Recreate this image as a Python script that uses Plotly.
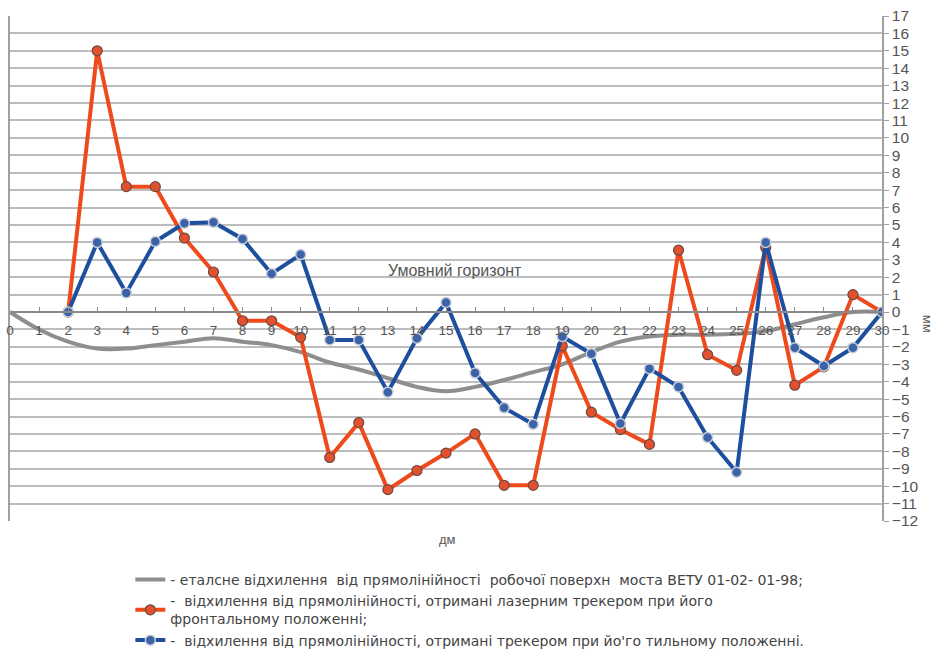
import plotly.graph_objects as go

x_ref = list(range(0, 31))
gray_vals = [0, -1.0, -1.7, -2.1, -2.1, -1.9, -1.7, -1.5, -1.7, -1.9, -2.3,
             -2.9, -3.3, -3.8, -4.3, -4.55, -4.3, -3.9, -3.45, -3.0, -2.3,
             -1.7, -1.4, -1.3, -1.3, -1.25, -1.1, -0.7, -0.3, 0.0, 0.0]

x_meas = list(range(2, 31))
red_vals = [0, 15, 7.2, 7.2, 4.25, 2.3, -0.5, -0.5, -1.45, -8.35, -6.35, -10.2,
            -9.1, -8.1, -7.0, -9.95, -9.95, -1.95, -5.75, -6.75, -7.6, 3.55,
            -2.45, -3.35, 3.7, -4.2, -3.15, 1.0, 0]
blue_vals = [0, 4.0, 1.1, 4.05, 5.1, 5.15, 4.2, 2.2, 3.3, -1.6, -1.6, -4.6,
             -1.5, 0.55, -3.5, -5.5, -6.45, -1.4, -2.4, -6.4, -3.25, -4.3,
             -7.2, -9.2, 4.0, -2.05, -3.1, -2.05, 0]

x_ticks = list(range(0, 31))
y_ticks = list(range(-12, 18))

names = [
    "- еталсне відхилення  від прямолінійності  робочої поверхн  моста ВЕТУ 01-02- 01-98;",
    "-  відхилення від прямолінійності, отримані лазерним трекером при його<br>фронтальному положенні;",
    "-  відхилення від прямолінійності, отримані трекером при йо'го тильному положенні.",
]

fig = go.Figure()
fig.add_trace(go.Scatter(x=x_ref, y=gray_vals, mode="lines", name=names[0],
                         line=dict(color="#8e8e8e", width=4, shape="spline")))
fig.add_trace(go.Scatter(x=x_meas, y=red_vals, mode="lines+markers", name=names[1],
                         line=dict(color="#ee4a1c", width=4),
                         marker=dict(size=10, color="#e2502e",
                                     line=dict(color="#6b4a40", width=1.2))))
fig.add_trace(go.Scatter(x=x_meas, y=blue_vals, mode="lines+markers", name=names[2],
                         line=dict(color="#1d4f9e", width=4),
                         marker=dict(size=10, color="#3b64a8",
                                     line=dict(color="#c9ced8", width=1.5))))

fig.add_annotation(x=15.3, y=2.4, xref="x", yref="y", text="Умовний горизонт",
                   showarrow=False, font=dict(size=16, color="#555555"))
fig.add_annotation(x=0.502, y=-0.055, xref="paper", yref="paper", text="дм",
                   showarrow=False, font=dict(size=13, color="#555555"))
fig.add_annotation(x=1.064, y=0.39, xref="paper", yref="paper", text="мм",
                   showarrow=False, textangle=90, font=dict(size=13, color="#555555"))

fig.update_layout(
    width=935, height=652,
    margin=dict(l=10, r=53, t=16, b=131, autoexpand=False),
    paper_bgcolor="white", plot_bgcolor="white",
    font=dict(family="Liberation Sans, Arial, sans-serif", color="#555555"),
    legend=dict(x=0.138, y=-0.085, xanchor="left", yanchor="top",
                font=dict(size=14, color="#444444", family="DejaVu Sans, sans-serif"),
                tracegroupgap=0, bgcolor="rgba(0,0,0,0)"),
    showlegend=True,
)
fig.update_xaxes(range=[0, 30], tickvals=x_ticks, showgrid=False,
                 anchor="free", position=12 / 29, showline=True,
                 linecolor="#8a8a8a", linewidth=1.5, ticks="inside", ticklen=4,
                 tickcolor="#8a8a8a", tickfont=dict(size=13.5, color="#555555"),
                 ticklabelstandoff=6, zeroline=False)
fig.update_yaxes(range=[-12, 17], tickvals=y_ticks, side="right", showgrid=True,
                 gridcolor="#bdbdbd", gridwidth=1.5, showline=True, mirror=True,
                 linecolor="#a0a0a0", linewidth=1.5, ticks="outside", ticklen=5,
                 tickcolor="#a0a0a0", tickfont=dict(size=15.5, color="#555555"),
                 zeroline=False)

fig.write_html("out.html")
